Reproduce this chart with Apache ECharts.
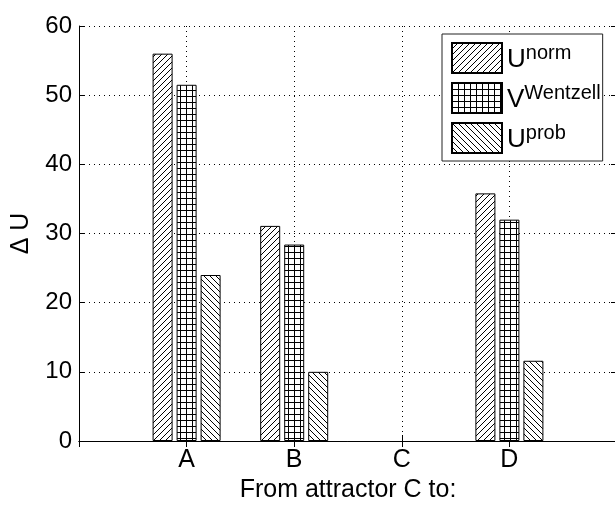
<!DOCTYPE html>
<html>
<head>
<meta charset="utf-8">
<script src="https://cdn.jsdelivr.net/npm/echarts@6/dist/echarts.min.js"></script>
<style>
  html, body { margin: 0; padding: 0; background: #fff; }
  #graph { width: 615px; height: 505px; }
</style>
</head>
<body>
<div id="graph"></div>
<script>
// 类目 (两端留空, 相当于 xlim [0 5])
var categories = ['', 'A', 'B', 'C', 'D', ''];
var uNorm = [null, 56.0, 31.1, 0, 35.8, null];
var vWentzell = [null, 51.5, 28.4, 0, 32.0, null];
var uProb = [null, 24.0, 10.0, 0, 11.6, null];
var yTicks = { min: 0, max: 60, interval: 10 };

var FONT = 'Liberation Sans';

// 阴影填充 (hatch)
function makeHatch(kind) {
    var s = 6;
    var c = document.createElement('canvas');
    c.width = s;
    c.height = s;
    var ctx = c.getContext('2d');
    ctx.fillStyle = '#fff';
    ctx.fillRect(0, 0, s, s);
    ctx.strokeStyle = '#000';
    ctx.lineWidth = 1;
    ctx.beginPath();
    if (kind === 'grid') {
        ctx.moveTo(0.5, 0);
        ctx.lineTo(0.5, s);
        ctx.moveTo(0, 0.5);
        ctx.lineTo(s, 0.5);
    } else if (kind === 'fwd') { // "/"
        ctx.moveTo(-1, s + 1);
        ctx.lineTo(s + 1, -1);
        ctx.moveTo(-1, 1);
        ctx.lineTo(1, -1);
        ctx.moveTo(s - 1, s + 1);
        ctx.lineTo(s + 1, s - 1);
    } else { // "\"
        ctx.moveTo(-1, -1);
        ctx.lineTo(s + 1, s + 1);
        ctx.moveTo(s - 1, -1);
        ctx.lineTo(s + 1, 1);
        ctx.moveTo(-1, s - 1);
        ctx.lineTo(1, s + 1);
    }
    ctx.stroke();
    return { image: c, repeat: 'repeat' };
}

var legendText = {
    'Unorm': '{u|U}{sup|norm}',
    'VWentzell': '{u|V}{sup|Wentzell}',
    'Uprob': '{u|U}{sup|prob}'
};

function barSeries(name, data, kind) {
    // 0 值不画边框 (与坐标轴重合)
    var items = data.map(function (v) {
        if (v === 0) return { value: v, itemStyle: { borderWidth: 0 } };
        return v;
    });
    return {
        name: name,
        type: 'bar',
        data: items,
        barWidth: 20,
        barGap: '20%',
        itemStyle: {
            color: makeHatch(kind),
            borderColor: '#000',
            borderWidth: 1
        },
        emphasis: { disabled: true }
    };
}

var axisBlack = { lineStyle: { color: '#000', width: 1 } };

var option = {
    animation: false,
    backgroundColor: '#fff',
    textStyle: { fontFamily: FONT },
    grid: { left: 79, top: 26, width: 538, height: 415, containLabel: false, outerBoundsMode: 'none' },
    legend: {
        orient: 'vertical',
        left: 442,
        top: 34,
        padding: [8, 2, 7, 9],
        itemWidth: 50,
        itemHeight: 30,
        itemGap: 8,
        backgroundColor: '#fff',
        borderColor: '#222',
        borderWidth: 1,
        borderRadius: 0,
        icon: 'rect',
        selectedMode: false,
        data: ['Unorm', 'VWentzell', 'Uprob'],
        formatter: function (name) { return legendText[name]; },
        textStyle: {
            color: '#000',
            fontFamily: FONT,
            rich: {
                u: { fontSize: 26, lineHeight: 30, fontFamily: FONT, color: '#000', verticalAlign: 'bottom' },
                sup: { fontSize: 20, lineHeight: 20, fontFamily: FONT, color: '#000', verticalAlign: 'top' }
            }
        }
    },
    xAxis: [{
        type: 'category',
        data: categories,
        boundaryGap: false,
        name: 'From attractor C to:',
        nameLocation: 'middle',
        nameGap: 34,
        nameTextStyle: { fontSize: 25, color: '#000', fontFamily: FONT },
        axisLine: axisBlack,
        axisTick: { inside: true, length: 6, lineStyle: { color: '#000' } },
        axisLabel: { interval: 0, fontSize: 25, color: '#000', margin: 7, fontFamily: FONT },
        splitLine: { show: true, interval: 0, lineStyle: { color: '#000', type: [1, 4], width: 1 } }
    }, {
        type: 'category',
        data: categories,
        boundaryGap: false,
        position: 'top',
        axisLine: axisBlack,
        axisTick: { inside: true, length: 6, interval: 0, lineStyle: { color: '#000' } },
        axisLabel: { show: false },
        splitLine: { show: false }
    }],
    yAxis: [{
        type: 'value',
        min: yTicks.min,
        max: yTicks.max,
        interval: yTicks.interval,
        name: 'Δ U',
        nameLocation: 'middle',
        nameGap: 45,
        nameTextStyle: { fontSize: 25, color: '#000', fontFamily: FONT },
        axisLine: { show: true, lineStyle: { color: '#000', width: 1 } },
        axisTick: { show: true, inside: true, length: 6, lineStyle: { color: '#000' } },
        axisLabel: { fontSize: 24, color: '#000', margin: 7, fontFamily: FONT },
        splitLine: { show: true, lineStyle: { color: '#000', type: [1, 4], width: 1 } }
    }, {
        type: 'value',
        position: 'right',
        min: yTicks.min,
        max: yTicks.max,
        interval: yTicks.interval,
        axisLine: { show: true, lineStyle: { color: '#000', width: 1 } },
        axisTick: { show: true, inside: true, length: 6, lineStyle: { color: '#000' } },
        axisLabel: { show: false },
        splitLine: { show: false }
    }],
    series: [
        barSeries('Unorm', uNorm, 'fwd'),
        barSeries('VWentzell', vWentzell, 'grid'),
        barSeries('Uprob', uProb, 'back')
    ]
};

var chart = echarts.init(document.getElementById('graph'));
chart.setOption(option);
</script>
</body>
</html>
